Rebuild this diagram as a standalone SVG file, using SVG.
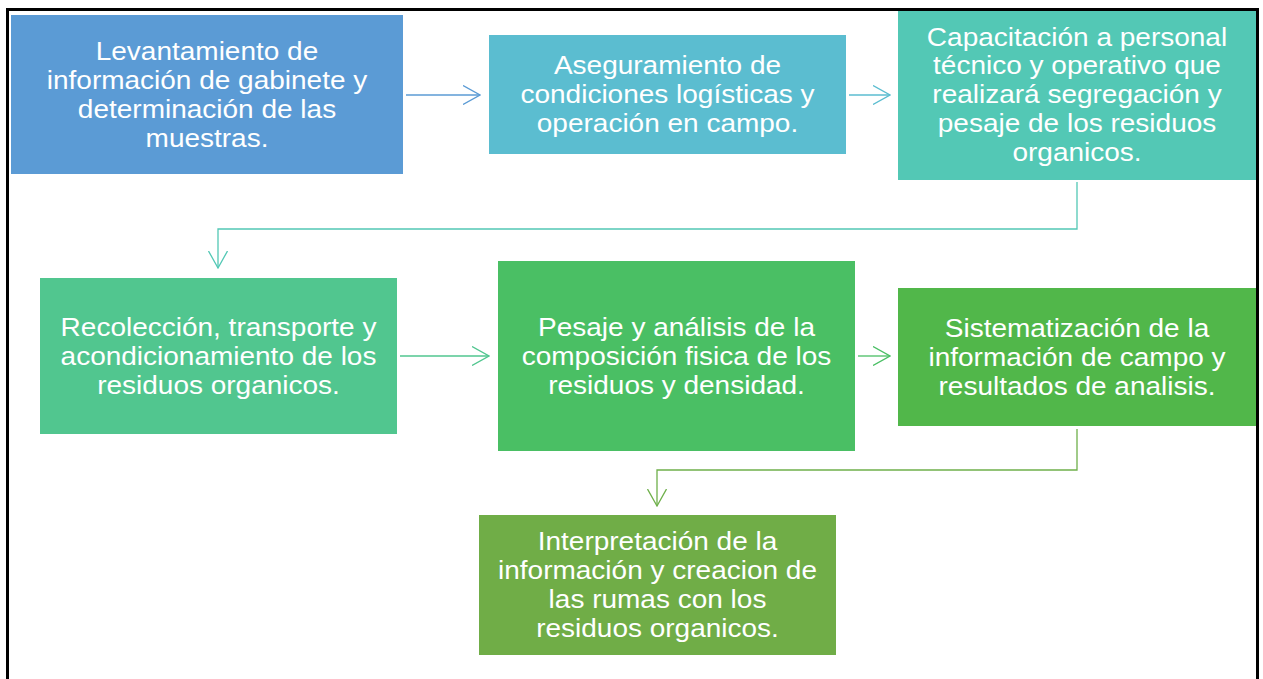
<svg xmlns="http://www.w3.org/2000/svg" width="1263" height="679" viewBox="0 0 1263 679">
  <style>
    .box { stroke: none; }
    .lbl { font-family: "Liberation Sans", Arial, sans-serif; font-size: 25px; fill: #ffffff; text-anchor: middle; }
    .conn { fill: none; stroke-width: 1.3; }
  </style>
  <defs>
    <marker id="m1" viewBox="0 0 18 20" refX="17" refY="10" markerWidth="18" markerHeight="20" markerUnits="userSpaceOnUse" orient="auto"><path d="M0,0.5 L17,10 L0,19.5" fill="none" stroke="#5B9BD5" stroke-width="1.3"/></marker>
    <marker id="m2" viewBox="0 0 18 20" refX="17" refY="10" markerWidth="18" markerHeight="20" markerUnits="userSpaceOnUse" orient="auto"><path d="M0,0.5 L17,10 L0,19.5" fill="none" stroke="#5BBDD0" stroke-width="1.3"/></marker>
    <marker id="m3" viewBox="0 0 18 20" refX="17" refY="10" markerWidth="18" markerHeight="20" markerUnits="userSpaceOnUse" orient="auto"><path d="M0,0.5 L17,10 L0,19.5" fill="none" stroke="#53C8B5" stroke-width="1.3"/></marker>
    <marker id="m4" viewBox="0 0 18 20" refX="17" refY="10" markerWidth="18" markerHeight="20" markerUnits="userSpaceOnUse" orient="auto"><path d="M0,0.5 L17,10 L0,19.5" fill="none" stroke="#51C68F" stroke-width="1.3"/></marker>
    <marker id="m5" viewBox="0 0 18 20" refX="17" refY="10" markerWidth="18" markerHeight="20" markerUnits="userSpaceOnUse" orient="auto"><path d="M0,0.5 L17,10 L0,19.5" fill="none" stroke="#4ABF64" stroke-width="1.3"/></marker>
    <marker id="m6" viewBox="0 0 18 20" refX="17" refY="10" markerWidth="18" markerHeight="20" markerUnits="userSpaceOnUse" orient="auto"><path d="M0,0.5 L17,10 L0,19.5" fill="none" stroke="#6FB04B" stroke-width="1.3"/></marker>
  </defs>
  <rect x="0" y="0" width="1263" height="679" fill="#ffffff"/>

  <g id="connectors">
    <path class="conn" stroke="#5B9BD5" d="M406,95 H480" marker-end="url(#m1)"/>
    <path class="conn" stroke="#5BBDD0" d="M849,95 H890" marker-end="url(#m2)"/>
    <path class="conn" stroke="#53C8B5" d="M1077,182 V229 H218 V268" marker-end="url(#m3)"/>
    <path class="conn" stroke="#51C68F" d="M400,356 H489" marker-end="url(#m4)"/>
    <path class="conn" stroke="#4ABF64" d="M858,356 H890" marker-end="url(#m5)"/>
    <path class="conn" stroke="#6FB04B" d="M1077,429 V470 H657 V506" marker-end="url(#m6)"/>
  </g>

  <g id="node1">
    <rect class="box" x="11" y="15" width="392" height="159" fill="#5B9BD5"/>
    <text class="lbl" transform="translate(207 60) scale(1.12 1)"><tspan x="0" y="0">Levantamiento de</tspan><tspan x="0" y="29">información de gabinete y</tspan><tspan x="0" y="58">determinación de las</tspan><tspan x="0" y="87">muestras.</tspan></text>
  </g>
  <g id="node2">
    <rect class="box" x="489" y="35" width="357" height="119" fill="#5BBDD0"/>
    <text class="lbl" transform="translate(667.5 74.3) scale(1.12 1)"><tspan x="0" y="0">Aseguramiento de</tspan><tspan x="0" y="29">condiciones logísticas y</tspan><tspan x="0" y="58">operación en campo.</tspan></text>
  </g>
  <g id="node3">
    <rect class="box" x="898" y="10" width="358" height="170" fill="#53C8B5"/>
    <text class="lbl" transform="translate(1077 45.5) scale(1.12 1)"><tspan x="0" y="0">Capacitación a personal</tspan><tspan x="0" y="29">técnico y operativo que</tspan><tspan x="0" y="58">realizará segregación y</tspan><tspan x="0" y="87">pesaje de los residuos</tspan><tspan x="0" y="116">organicos.</tspan></text>
  </g>
  <g id="node4">
    <rect class="box" x="40" y="278" width="357" height="156" fill="#51C68F"/>
    <text class="lbl" transform="translate(218.5 335.8) scale(1.12 1)"><tspan x="0" y="0">Recolección, transporte y</tspan><tspan x="0" y="29">acondicionamiento de los</tspan><tspan x="0" y="58">residuos organicos.</tspan></text>
  </g>
  <g id="node5">
    <rect class="box" x="498" y="261" width="357" height="190" fill="#4ABF64"/>
    <text class="lbl" transform="translate(676.5 335.8) scale(1.12 1)"><tspan x="0" y="0">Pesaje y análisis de la</tspan><tspan x="0" y="29">composición fisica de los</tspan><tspan x="0" y="58">residuos y densidad.</tspan></text>
  </g>
  <g id="node6">
    <rect class="box" x="898" y="288" width="358" height="138" fill="#51B74A"/>
    <text class="lbl" transform="translate(1077 336.7) scale(1.12 1)"><tspan x="0" y="0">Sistematización de la</tspan><tspan x="0" y="29">información de campo y</tspan><tspan x="0" y="58">resultados de analisis.</tspan></text>
  </g>
  <g id="node7">
    <rect class="box" x="479" y="515" width="357" height="140" fill="#70AD47"/>
    <text class="lbl" transform="translate(657.5 549.8) scale(1.12 1)"><tspan x="0" y="0">Interpretación de la</tspan><tspan x="0" y="29">información y creacion de</tspan><tspan x="0" y="58">las rumas con los</tspan><tspan x="0" y="87">residuos organicos.</tspan></text>
  </g>

  <rect x="7.5" y="9.5" width="1250" height="700" fill="none" stroke="#000000" stroke-width="3"/>
</svg>
